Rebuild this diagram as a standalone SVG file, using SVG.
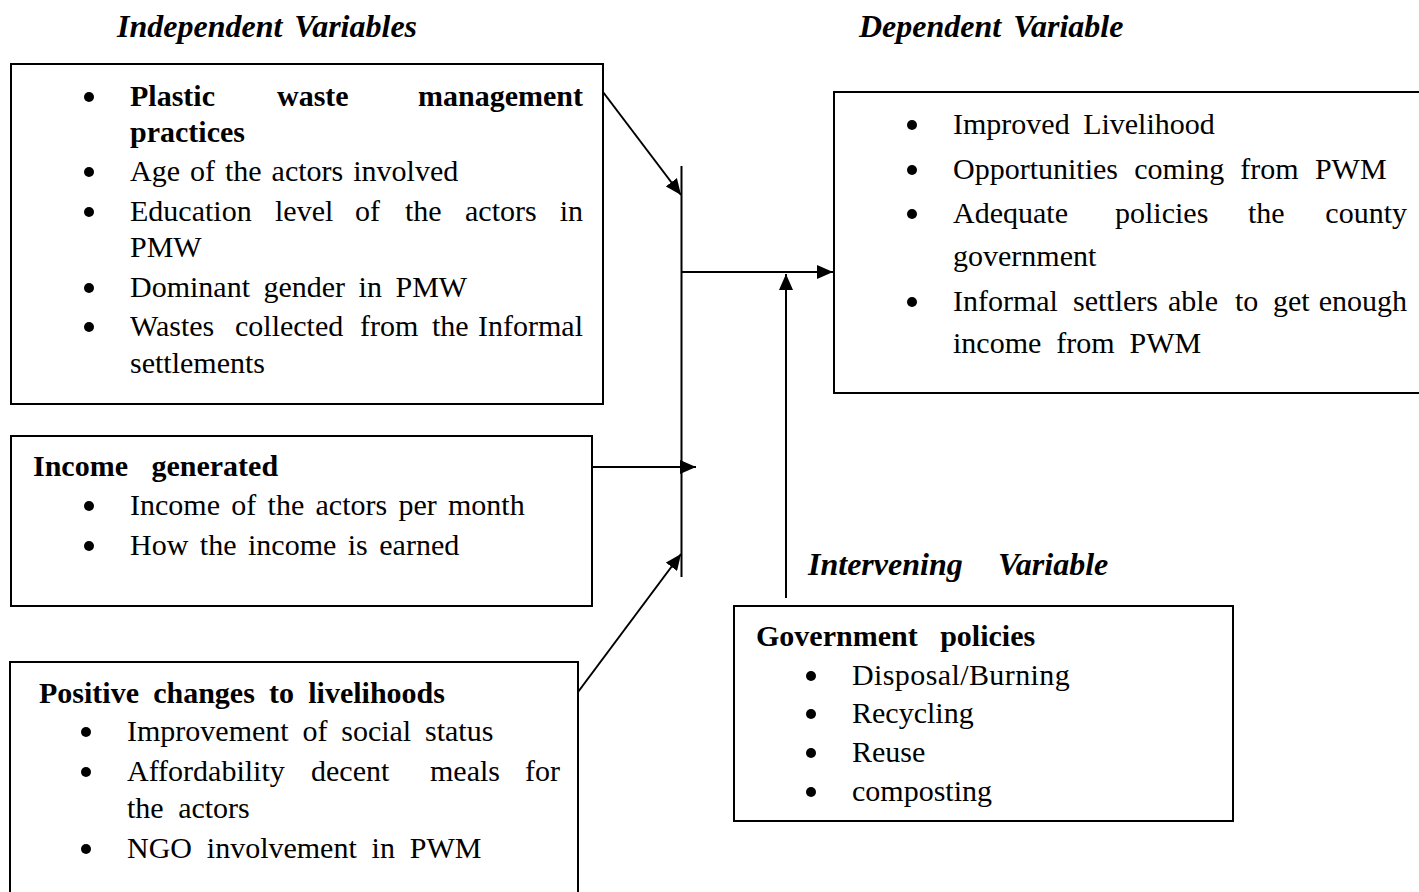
<svg xmlns="http://www.w3.org/2000/svg" xmlns:xlink="http://www.w3.org/1999/xlink" width="1419" height="892" viewBox="0 0 1419 892">
<style>
text{font-family:"Liberation Serif","Times New Roman",serif;font-size:30px;fill:#000}
.b{font-weight:bold}
.h{font-weight:bold;font-style:italic;font-size:32px}
.box{fill:none;stroke:#000;stroke-width:2}
.c{fill:none;stroke:#000;stroke-width:2}
</style>
<defs>
<marker id="ah" viewBox="0 0 16 14" refX="16" refY="7" markerWidth="16" markerHeight="14" markerUnits="userSpaceOnUse" orient="auto">
<path d="M0,0 L16,7 L0,14 z" fill="#000"/>
</marker>
<circle id="dot" cx="0" cy="0" r="5" fill="#000"/>
</defs>
<rect width="1419" height="892" fill="#fff"/>

<g id="headings">
<text class="h" x="117" y="37" word-spacing="4">Independent Variables</text>
<text class="h" x="859" y="37" word-spacing="4">Dependent Variable</text>
<text class="h" y="575"><tspan x="808">Intervening </tspan><tspan x="998">Variable</tspan></text>
</g>

<g id="independent-1">
<rect class="box" x="11" y="64" width="592" height="340"/>
<use href="#dot" xlink:href="#dot" x="89" y="97"/>
<text class="b" y="106"><tspan x="130">Plastic </tspan><tspan x="277">waste </tspan><tspan x="583" text-anchor="end">management</tspan></text>
<text class="b" x="130" y="142">practices</text>
<use href="#dot" xlink:href="#dot" x="89" y="172"/>
<text x="130" y="181" word-spacing="2.5">Age of the actors involved</text>
<use href="#dot" xlink:href="#dot" x="89" y="212"/>
<text y="221"><tspan x="130">Education </tspan><tspan x="275">level </tspan><tspan x="355">of </tspan><tspan x="405">the </tspan><tspan x="465">actors </tspan><tspan x="583" text-anchor="end">in</tspan></text>
<text x="130" y="257">PMW</text>
<use href="#dot" xlink:href="#dot" x="89" y="288"/>
<text x="130" y="297" word-spacing="6">Dominant gender in PMW</text>
<use href="#dot" xlink:href="#dot" x="89" y="327"/>
<text y="336"><tspan x="130">Wastes </tspan><tspan x="235">collected </tspan><tspan x="360">from </tspan><tspan x="432">the </tspan><tspan x="583" text-anchor="end">Informal</tspan></text>
<text x="130" y="373">settlements</text>
</g>

<g id="independent-2">
<rect class="box" x="11" y="436" width="581" height="170"/>
<text class="b" x="33" y="476" word-spacing="16">Income generated</text>
<use href="#dot" xlink:href="#dot" x="89" y="506"/>
<text x="130" y="515" word-spacing="3.8">Income of the actors per month</text>
<use href="#dot" xlink:href="#dot" x="89" y="546"/>
<text x="130" y="555" word-spacing="4">How the income is earned</text>
</g>

<g id="independent-3">
<rect class="box" x="10" y="662" width="568" height="240"/>
<text class="b" x="39" y="703" word-spacing="6.7">Positive changes to livelihoods</text>
<use href="#dot" xlink:href="#dot" x="86" y="732"/>
<text x="127" y="741" word-spacing="6.3">Improvement of social status</text>
<use href="#dot" xlink:href="#dot" x="86" y="772"/>
<text y="781"><tspan x="127">Affordability </tspan><tspan x="311">decent </tspan><tspan x="430">meals </tspan><tspan x="560" text-anchor="end">for</tspan></text>
<text x="127" y="818" word-spacing="7">the actors</text>
<use href="#dot" xlink:href="#dot" x="86" y="849"/>
<text x="127" y="858" word-spacing="7.3">NGO involvement in PWM</text>
</g>

<g id="dependent">
<rect class="box" x="834" y="92" width="600" height="301"/>
<use href="#dot" xlink:href="#dot" x="912" y="125"/>
<text x="953" y="134" word-spacing="6">Improved Livelihood</text>
<use href="#dot" xlink:href="#dot" x="912" y="170"/>
<text x="953" y="179" word-spacing="8.7">Opportunities coming from PWM</text>
<use href="#dot" xlink:href="#dot" x="912" y="214"/>
<text y="223"><tspan x="953">Adequate </tspan><tspan x="1115">policies </tspan><tspan x="1248">the </tspan><tspan x="1407" text-anchor="end">county</tspan></text>
<text x="953" y="266">government</text>
<use href="#dot" xlink:href="#dot" x="912" y="302"/>
<text y="311"><tspan x="953">Informal </tspan><tspan x="1073">settlers </tspan><tspan x="1168">able </tspan><tspan x="1235">to </tspan><tspan x="1273">get </tspan><tspan x="1407" text-anchor="end">enough</tspan></text>
<text x="953" y="353" word-spacing="7.5">income from PWM</text>
</g>

<g id="intervening">
<rect class="box" x="734" y="606" width="499" height="215"/>
<text class="b" x="756" y="646" word-spacing="15">Government policies</text>
<use href="#dot" xlink:href="#dot" x="811" y="676"/>
<text x="852" y="685" letter-spacing="0.4">Disposal/Burning</text>
<use href="#dot" xlink:href="#dot" x="811" y="714"/>
<text x="852" y="723">Recycling</text>
<use href="#dot" xlink:href="#dot" x="811" y="753"/>
<text x="852" y="762">Reuse</text>
<use href="#dot" xlink:href="#dot" x="811" y="792"/>
<text x="852" y="801">composting</text>
</g>

<g id="connectors">
<line class="c" x1="681.5" y1="166" x2="681.5" y2="577"/>
<line class="c" x1="603" y1="92" x2="681" y2="195" marker-end="url(#ah)"/>
<line class="c" x1="592" y1="467" x2="696" y2="467" marker-end="url(#ah)"/>
<line class="c" x1="578" y1="692" x2="681" y2="554" marker-end="url(#ah)"/>
<line class="c" x1="681.5" y1="272" x2="833" y2="272" marker-end="url(#ah)"/>
<line class="c" x1="786" y1="598" x2="786" y2="274" marker-end="url(#ah)"/>
</g>
</svg>
